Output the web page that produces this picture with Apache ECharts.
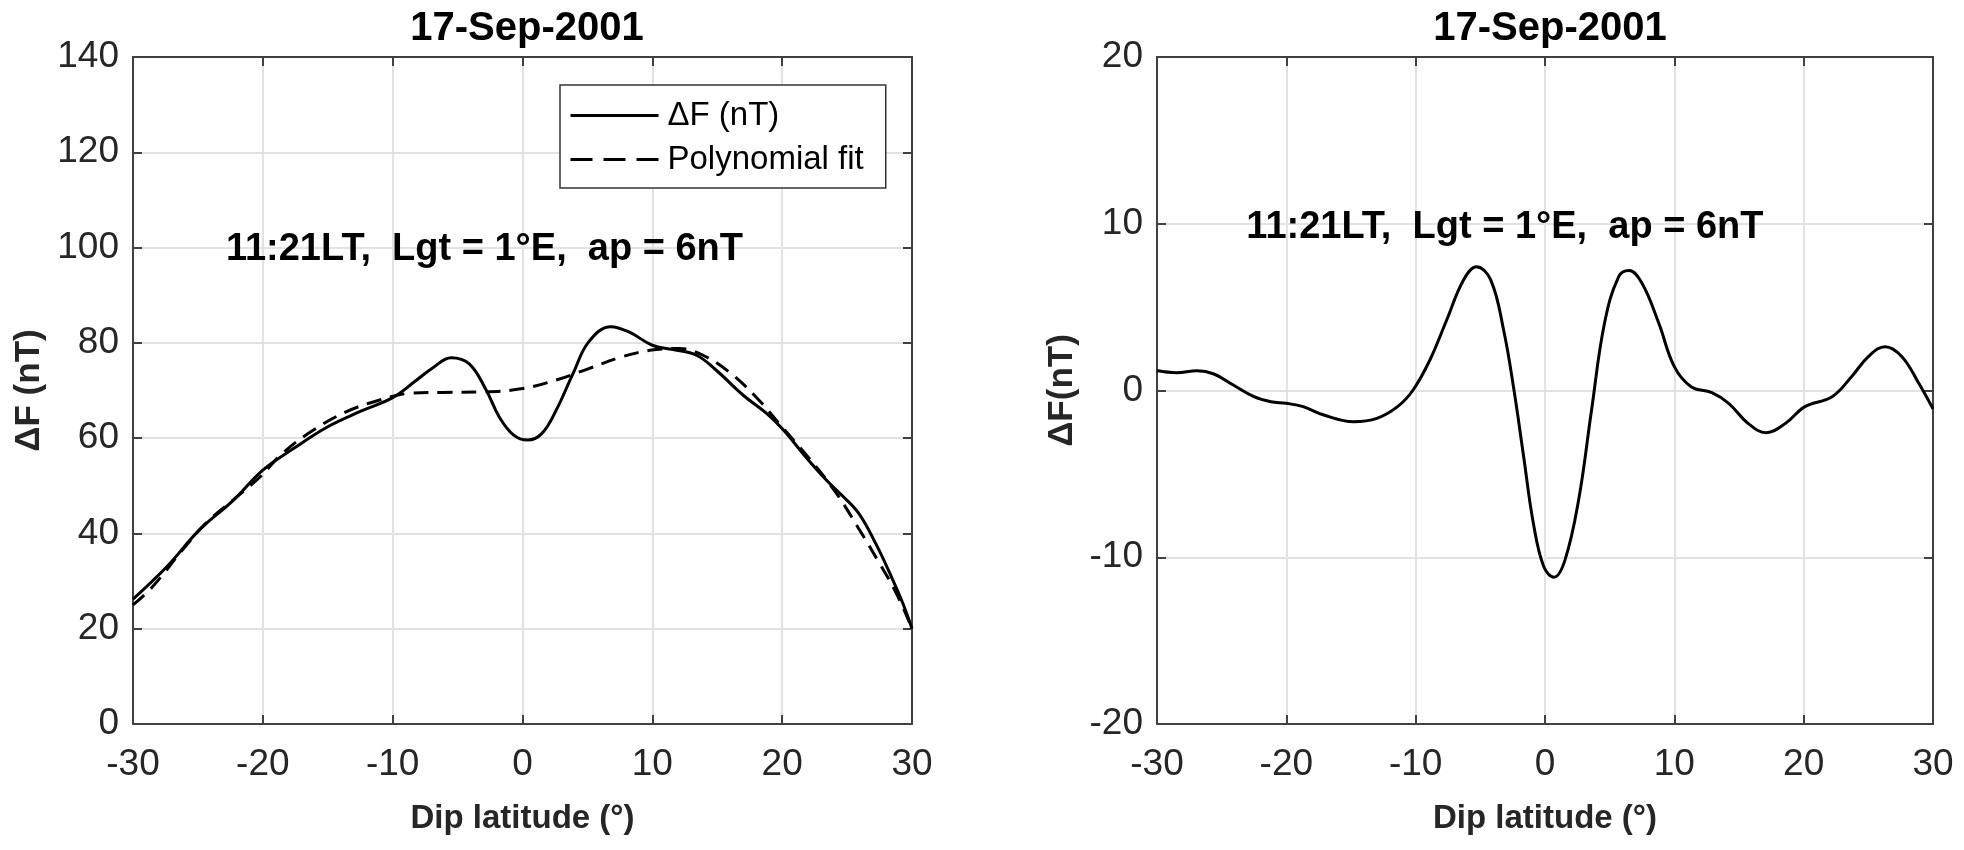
<!DOCTYPE html>
<html><head><meta charset="utf-8">
<script src="https://cdn.jsdelivr.net/npm/echarts@6/dist/echarts.min.js"></script>
<style>html,body{margin:0;padding:0;background:#fff}#c{width:1964px;height:850px}</style>
</head><body><div id="c"></div>
<script>
// ---- data ----
const latObs = [-30,-27.4,-24.9,-22.3,-20,-17.7,-15,-12.5,-10,-8.2,-6.9,-5.5,-4.1,-2.8,-1.8,-0.7,0.4,1.5,2.6,3.9,5.1,6.8,8.2,10,11.6,13.4,14.9,17,18.8,20.1,21.8,23.4,24.6,25.9,27.2,28.3,29.3,30];
const dfObs  = [26.2,33,40.7,46.9,53.3,57.7,62.4,65.6,68.5,72.1,74.8,76.9,75.6,70.1,64.5,60.7,59.6,61,65.9,73.6,80.2,83.4,82.3,79.5,78.6,77.4,74.3,69,65.2,61.7,56.1,51.2,48,44.2,37.9,31.6,25.3,20];
const latFit = [-30,-28.5,-26.2,-24.4,-22.3,-20.2,-18.5,-16.1,-13.6,-11,-8.7,-6.1,-3,0,2.6,5.1,7.7,10.3,12.1,13.9,15.9,18,20.1,22.1,24.1,25.9,27.5,28.8,30];
const dfFit  = [25,28.8,36.5,42.1,47,51.9,56.8,61.7,65.5,68,69.4,69.6,69.7,70.4,72.2,74.6,77.1,78.6,78.8,77.4,73.9,68.6,62,55.7,48.7,41,33.7,27.4,20];
const latRes = [-30,-28.5,-26.9,-25.6,-24.1,-22.5,-21.2,-20,-18.7,-17.1,-14.8,-13,-11.4,-10.2,-8.9,-7.6,-6.3,-5.3,-4.2,-3.2,-2.4,-1.65,-0.9,-0.1,0.7,1.55,2.6,3.6,4.6,5.7,6.5,7.5,8.8,10,11.3,12.9,14.2,15.7,17.1,18.6,20.1,22.2,23.7,25,26.3,27.6,28.9,30];
const dfRes  = [1.2,1.07,1.19,0.99,0.33,-0.37,-0.67,-0.77,-0.97,-1.47,-1.87,-1.67,-0.97,0.03,1.83,4.23,6.63,7.42,6.63,3.63,0.03,-3.97,-7.96,-10.56,-11.2,-10.16,-6.57,-1.17,4.03,6.83,7.19,6.43,4.03,1.43,0.23,-0.13,-0.77,-1.97,-2.53,-1.97,-0.97,-0.37,0.83,2.03,2.63,2.03,0.43,-1.1];
const titleText = '17-Sep-2001';
const infoText = '11:21LT,  Lgt = 1°E,  ap = 6nT';
const seriesNames = ['\u0394F (nT)', 'Polynomial fit'];

const FONT = '"Liberation Sans", Arial, Helvetica, sans-serif';
const AX = '#404040', TXT = '#262626', GRID = '#e2e2e2';
const zip = (a, b) => a.map((v, i) => [v, b[i]]);

function xAx(grid, bottom) {
  return {
    type: 'value', gridIndex: grid, min: -30, max: 30, interval: 10,
    position: bottom ? 'bottom' : 'top',
    name: bottom ? 'Dip latitude (°)' : '', nameLocation: 'middle', nameGap: 78,
    nameTextStyle: { fontFamily: FONT, fontSize: 33, fontWeight: 'bold', color: TXT },
    axisLine: { show: true, onZero: false, lineStyle: { color: AX, width: 2 } },
    axisTick: { show: true, inside: true, length: 9, lineStyle: { color: AX, width: 2 } },
    axisLabel: { show: bottom, margin: 22, fontFamily: FONT, fontSize: 37, color: TXT },
    splitLine: { show: bottom, lineStyle: { color: GRID, width: 2 } }
  };
}
function yAx(grid, left, min, max, interval, name, gap) {
  return {
    type: 'value', gridIndex: grid, min: min, max: max, interval: interval,
    position: left ? 'left' : 'right',
    name: left ? name : '', nameLocation: 'middle', nameGap: gap, nameRotate: 90,
    nameTextStyle: { fontFamily: FONT, fontSize: 35, fontWeight: 'bold', color: TXT },
    axisLine: { show: true, onZero: false, lineStyle: { color: AX, width: 2 } },
    axisTick: { show: true, inside: true, length: 9, lineStyle: { color: AX, width: 2 } },
    axisLabel: { show: left, margin: 14, fontFamily: FONT, fontSize: 37, color: TXT },
    splitLine: { show: left, lineStyle: { color: GRID, width: 2 } }
  };
}

const chart = echarts.init(document.getElementById('c'), null, { renderer: 'canvas' });
const option = {
  animation: false,
  backgroundColor: '#fff',
  title: [
    { text: titleText, left: 522, top: 4, textAlign: 'center',
      textStyle: { fontFamily: FONT, fontSize: 40, fontWeight: 'bold', color: '#000' } },
    { text: titleText, left: 1545, top: 4, textAlign: 'center',
      textStyle: { fontFamily: FONT, fontSize: 40, fontWeight: 'bold', color: '#000' } }
  ],
  grid: [
    { left: 133, top: 57, width: 779, height: 667 },
    { left: 1157, top: 57, width: 776, height: 667 }
  ],
  legend: {
    data: [
      { name: seriesNames[0], lineStyle: { width: 3, color: '#000', type: 'solid' } },
      { name: seriesNames[1], lineStyle: { width: 3, color: '#000', type: [22, 11] } }
    ],
    orient: 'vertical', left: 560, top: 85,
    itemWidth: 88, itemHeight: 30, itemGap: 11,
    padding: [14, 22, 12, 9],
    itemStyle: { opacity: 0 },
    borderColor: '#333', borderWidth: 1.5, backgroundColor: '#fff',
    textStyle: { fontFamily: FONT, fontSize: 33, color: '#000', padding: [0, 0, 0, 4] }
  },
  xAxis: [xAx(0, true), xAx(0, false), xAx(1, true), xAx(1, false)],
  yAxis: [yAx(0, true, 0, 140, 20, '\u0394F (nT)', 86), yAx(0, false, 0, 140, 20, '', 0),
          yAx(1, true, -20, 20, 10, '\u0394F(nT)', 77), yAx(1, false, -20, 20, 10, '', 0)],
  series: [
    { name: seriesNames[0], type: 'line', xAxisIndex: 0, yAxisIndex: 0, data: zip(latObs, dfObs),
      symbol: 'none', smooth: 0.4, lineStyle: { color: '#000', width: 3 }, itemStyle: { color: '#000' }, z: 3 },
    { name: seriesNames[1], type: 'line', xAxisIndex: 0, yAxisIndex: 0, data: zip(latFit, dfFit),
      symbol: 'none', smooth: 0.4, lineStyle: { color: '#000', width: 3, type: [15, 9] }, itemStyle: { color: '#000' }, z: 2 },
    { name: 'residual', type: 'line', xAxisIndex: 2, yAxisIndex: 2, data: zip(latRes, dfRes),
      symbol: 'none', smooth: 0.4, lineStyle: { color: '#000', width: 3 }, itemStyle: { color: '#000' }, z: 3 }
  ]
};
chart.setOption(option);

// annotation text anchored in data coordinates
const p1 = chart.convertToPixel({ xAxisIndex: 0, yAxisIndex: 0 }, [-2.93, 99.5]);
const p2 = chart.convertToPixel({ xAxisIndex: 2, yAxisIndex: 2 }, [-3.1, 9.8]);
const ann = (p) => ({ type: 'text', x: p[0], y: p[1], z: 50,
  style: { text: infoText, fontFamily: FONT, fontSize: 38, fontWeight: 'bold', fill: '#000',
           textAlign: 'center', textVerticalAlign: 'middle' } });
chart.setOption({ graphic: [ann(p1), ann(p2)] });
</script></body></html>
